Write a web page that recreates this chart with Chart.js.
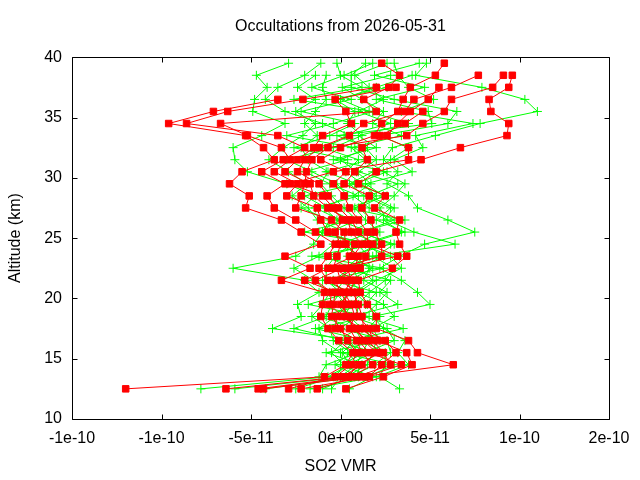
<!DOCTYPE html>
<html>
<head>
<meta charset="utf-8">
<script src="https://cdn.jsdelivr.net/npm/chart.js@4.4.1/dist/chart.umd.min.js"></script>
<style>
  html, body { margin: 0; padding: 0; background: #fff; }
  #wrap { width: 640px; height: 480px; }
</style>
</head>
<body>
<div id="wrap"><canvas id="occ" width="640" height="480"></canvas></div>
<script>
// altitude levels (km), bottom to top
const alts = [12.5, 13.5, 14.5, 15.5, 16.5, 17.5, 18.5, 19.5, 20.5, 21.5, 22.5, 23.5, 24.5, 25.5,
              26.5, 27.5, 28.5, 29.5, 30.5, 31.5, 32.5, 33.5, 34.5, 35.5, 36.5, 37.5, 38.5, 39.5];

// SO2 VMR profiles, values in units of 1e-11 (null = no retrieval at that level)
const red0 = [-12.0, -0.9, 0.3, 0.7, -0.1, -0.7, -1.1, -1.0, -0.9, -3.3, -1.7, -3.1, -1.1, -2.2, -3.3, -5.3, -5.1, -6.2, -5.5, -3.7, -4.3, -5.3, -9.6, -7.1, -3.5, null, null, null];
const red1 = [-6.4, 0.1, 1.2, 2.0, 1.3, 0.9, 0.3, 0.2, 0.4, -0.7, -1.2, -0.7, -0.3, -1.4, -2.5, -3.7, -4.1, -3.1, -4.4, -3.2, -2.0, -3.5, -8.6, -6.3, -2.1, 2.0, null, null];
const red2 = [-4.6, 0.6, 1.8, 1.2, 0.9, 0.5, 0.8, 0.6, 0.2, 0.6, 0.4, 0.5, 0.8, -0.7, -1.1, -1.3, -3.0, -2.4, -3.7, -2.8, -3.3, -5.2, -6.7, 2.0, 1.3, 2.7, 3.3, 2.3];
const red3 = [-4.3, 1.2, 6.3, 4.3, 3.8, 2.0, 2.0, 1.5, 1.1, 1.0, 2.9, 3.7, 3.3, 3.1, 3.3, 1.9, 2.5, 1.0, 2.0, 4.5, 6.7, 9.3, 9.4, 8.4, 8.3, 9.4, 9.6, null];
const red4 = [-2.9, -0.3, 0.6, 0.9, 0.4, 0.0, -0.5, -0.4, -0.3, -2.0, -0.7, 0.7, 1.2, 0.6, 0.4, -0.7, -1.5, -1.7, -3.1, -2.4, -1.5, -1.0, 0.6, 0.3, -0.3, 3.1, null, null];
const red5 = [-2.2, 1.6, 2.3, 3.1, 2.5, 1.3, 1.2, 1.0, 0.7, 0.3, 1.1, 1.4, 1.8, 1.0, 0.6, -0.1, -0.7, -1.2, -2.4, -2.0, -1.2, 0.5, 1.3, 3.6, 4.1, 6.2, 7.7, null];
const red6 = [-1.3, 0.9, 2.8, 2.4, 1.8, 1.6, 1.0, 0.8, 0.9, 0.0, -0.2, 2.3, 2.3, 1.9, 1.7, 1.2, 1.6, 0.2, 0.8, 1.5, 1.2, 2.6, 3.2, 3.9, 4.9, 5.5, null, null];
const red7 = [0.3, 2.4, 4.0, 3.7, 2.1, 1.1, 0.1, -0.6, -0.5, -1.4, 0.1, 3.2, 1.5, 1.5, 1.0, 0.5, 0.2, -0.4, 0.3, -1.1, 0.0, 1.9, 2.3, 3.2, 3.5, 3.9, 5.3, 5.8];
const red8 = [null, 1.4, 3.4, 1.6, 1.0, -0.3, -0.2, 0.4, 0.0, -0.3, 0.8, 1.0, 0.3, 0.2, -0.5, -2.5, -2.2, -2.0, -1.9, -1.6, -0.7, 3.7, 4.6, 5.8, 6.2, 8.5, 9.1, null];
const red9 = [null, 0.4, 1.0, 2.2, 1.5, 0.7, 0.5, 0.0, 0.5, 0.8, -0.4, -0.2, 0.0, -0.3, 0.1, -0.4, -1.0, -2.8, -0.4, 3.8, 3.8, 2.2, 3.6, 4.6, null, null, null, null];

const green0 = [-7.8, -0.7, 0.5, 0.1, 0.8, -3.8, -2.2, -2.4, -1.2, -2.0, -6.0, -2.5, -1.5, -1.0, -0.6, -2.2, -1.4, -3.0, -5.2, -5.9, -6.0, -4.4, -3.1, -4.9, -4.8, -4.1, -4.7, -2.9];
const green1 = [-5.9, 0.3, 1.5, 1.8, 2.0, 1.2, 0.5, 0.0, 0.4, 1.0, 0.7, 1.6, 0.9, 2.2, 1.4, 0.8, 2.0, 1.2, 0.3, 1.0, -1.0, 0.6, -1.0, -3.1, -4.2, -3.5, -2.0, -1.1];
const green2 = [-4.2, 1.0, -0.3, 0.6, -0.4, -0.6, -1.6, -1.0, -0.6, -1.5, -2.6, -1.2, -0.4, 0.3, -1.3, -1.8, -2.7, -1.9, -2.9, -4.0, -3.2, -2.1, -1.4, -2.5, -1.4, -2.4, -1.4, null];
const green3 = [-1.7, 2.0, 3.8, 3.2, 3.6, 2.4, 1.8, 5.0, 4.3, 3.4, 2.2, 3.3, 4.7, 7.5, 6.0, 4.3, 3.8, 2.6, 3.2, 2.4, 2.9, 5.3, 7.8, 11.0, 10.3, 7.9, 4.2, 4.8];
const green4 = [3.3, 2.2, 2.5, 2.5, 1.2, 0.8, 0.2, 0.6, 1.2, 0.5, 1.8, 0.4, 2.8, 1.2, 3.0, 1.6, 0.7, 1.7, 0.9, 0.0, 1.5, -0.2, 5.1, 4.9, 2.0, 4.7, 1.9, 4.4];
const green5 = [-0.5, 0.0, 0.9, 1.2, 1.6, 1.5, 2.2, 1.5, 0.8, 1.8, 1.0, 2.4, 1.4, 3.6, 2.0, 2.8, 1.3, 0.5, 1.8, 2.8, 3.8, 2.2, 6.0, 6.5, 3.0, 0.6, 0.6, 1.4];
const green6 = [-2.5, -0.3, 0.2, -0.5, 0.3, -2.6, -0.8, -0.5, 0.0, -0.8, -0.8, -0.3, 0.6, -0.6, 0.9, 0.2, -0.5, -1.1, -0.7, -1.8, -2.2, -1.3, -2.0, -1.4, -0.8, -1.0, -0.8, null];
const green7 = [-1.0, 0.6, 1.9, 2.8, 2.6, 0.0, 0.9, 1.0, 1.6, 2.5, 3.0, 1.8, 6.4, 4.1, 2.6, 2.2, 3.0, 3.6, 2.4, 1.4, 0.6, 3.4, 1.8, 2.4, 1.2, 0.1, 2.8, null];
const green8 = [null, 1.5, 3.0, 0.0, -1.0, -1.2, -0.3, 0.3, -0.3, 0.2, 0.3, 1.1, 0.0, 1.7, -0.2, -0.9, 0.4, -0.2, -1.6, -3.0, -0.4, 1.2, 0.4, 0.8, -0.3, 2.6, null, null];
const green9 = [null, -1.2, -0.8, 1.0, 0.5, 3.5, 1.3, 2.0, 2.6, 1.3, 1.6, 0.8, 2.1, 0.6, 1.8, 1.0, 2.4, 1.4, 4.0, 3.0, 4.6, 4.2, 7.4, 3.4, 5.2, 3.8, 3.2, 3.0];
const green10 = [null, 0.8, 1.2, -0.8, 2.2, 1.8, 3.0, 2.4, 1.0, 2.0, 3.4, 2.8, 1.2, 3.4, 2.4, 3.0, 1.6, 3.2, 1.0, 2.0, 1.4, 0.2, 2.8, 1.0, 2.4, 1.6, 0.8, 2.6];
const green11 = [null, -0.4, 0.4, 1.8, -0.2, 1.0, -1.2, 1.4, 2.0, -0.4, 0.6, -0.8, 1.6, -1.2, 0.0, -1.4, 1.0, -0.6, -2.0, 0.4, -2.6, -0.6, 0.8, -2.2, 0.6, -1.6, 0.2, 1.8];
const green12 = [0.5, 1.8, 0.0, 1.4, 3.0, 2.6, 0.6, 3.2, 2.2, 2.8, 0.2, 2.0, 3.0, 1.0, 3.6, 0.4, 2.6, 0.8, 2.6, -0.4, 2.0, 1.0, 3.8, 1.6, 0.0, 2.0, 4.0, null];
const green13 = [null, null, 1.0, 0.4, 1.4, -1.4, 1.6, -1.8, 0.6, -1.0, 2.4, -1.6, 2.0, -2.0, 0.6, -0.8, -2.0, 0.9, -0.8, 1.6, 0.8, -3.0, -0.4, 1.8, -2.6, 1.2, 0.0, -0.2];

const redProfiles = [red0, red1, red2, red3, red4, red5, red6, red7, red8, red9];
const greenProfiles = [green0, green1, green2, green3, green4, green5, green6, green7,
                       green8, green9, green10, green11, green12, green13];

// axis ticks
const xTickValues = [-1.5e-10, -1e-10, -5e-11, 0, 5e-11, 1e-10, 1.5e-10];
const xTickLabels = ['-1e-10', '-1e-10', '-5e-11', '0e+00', '5e-11', '1e-10', '2e-10'];
const yTickValues = [10, 15, 20, 25, 30, 35, 40];

const FONT = "'Liberation Sans', Arial, sans-serif";

function toPoints(profile) {
  const pts = [];
  profile.forEach((v, i) => {
    if (v !== null) pts.push({ x: v * 1e-11, y: alts[i] });
  });
  return pts;
}

const datasets = [];
// red first so it is drawn on top
redProfiles.forEach(p => datasets.push({
  data: toPoints(p),
  borderColor: '#ff0000',
  backgroundColor: '#ff0000',
  borderWidth: 1,
  pointStyle: 'rect',
  pointRadius: 4.6,
  pointBorderWidth: 1,
  showLine: true,
  tension: 0
}));
greenProfiles.forEach(p => datasets.push({
  data: toPoints(p),
  borderColor: '#00ff00',
  backgroundColor: '#00ff00',
  borderWidth: 1,
  pointStyle: 'cross',
  pointRadius: 4.5,
  pointBorderWidth: 1,
  showLine: true,
  tension: 0
}));

// gnuplot style border with inward ticks on all four sides
const frame = {
  id: 'frame',
  afterDatasetsDraw(chart) {
    const { ctx, chartArea: a, scales: { x, y } } = chart;
    const L = Math.round(a.left) + 0.5, R = Math.round(a.right) + 0.5;
    const T = Math.round(a.top) + 0.5, B = Math.round(a.bottom) + 0.5;
    ctx.save();
    ctx.strokeStyle = '#000';
    ctx.lineWidth = 1;
    ctx.beginPath();
    ctx.rect(L, T, R - L, B - T);
    x.ticks.forEach(t => {
      const px = Math.round(x.getPixelForValue(t.value)) + 0.5;
      ctx.moveTo(px, B); ctx.lineTo(px, B - 5);
      ctx.moveTo(px, T); ctx.lineTo(px, T + 5);
    });
    y.ticks.forEach(t => {
      const py = Math.round(y.getPixelForValue(t.value)) + 0.5;
      ctx.moveTo(L, py); ctx.lineTo(L + 5, py);
      ctx.moveTo(R, py); ctx.lineTo(R - 5, py);
    });
    ctx.stroke();
    ctx.restore();
  }
};

new Chart(document.getElementById('occ'), {
  type: 'scatter',
  data: { datasets },
  plugins: [frame],
  options: {
    responsive: false,
    animation: false,
    devicePixelRatio: 1,
    layout: { padding: { top: 0, right: 31, bottom: 0, left: 0 } },
    plugins: {
      legend: { display: false },
      tooltip: { enabled: false },
      title: {
        display: true,
        fullSize: false,
        text: 'Occultations from 2026-05-31',
        color: '#000',
        font: { family: FONT, size: 16, weight: 'normal' },
        padding: { top: 17, bottom: 21 }
      }
    },
    scales: {
      x: {
        type: 'linear',
        min: -1.5e-10,
        max: 1.5e-10,
        grid: { display: false, drawTicks: false },
        border: { display: false },
        afterBuildTicks: s => { s.ticks = xTickValues.map(v => ({ value: v })); },
        afterFit: s => { s.height = 61; },
        ticks: {
          autoSkip: false,
          maxRotation: 0,
          padding: 10,
          color: '#000',
          font: { family: FONT, size: 16 },
          callback: (v, i) => xTickLabels[i]
        },
        title: {
          display: true,
          text: 'SO2 VMR',
          color: '#000',
          font: { family: FONT, size: 16 },
          padding: { top: 0, bottom: 4 }
        }
      },
      y: {
        type: 'linear',
        min: 10,
        max: 40,
        grid: { display: false, drawTicks: false },
        border: { display: false },
        afterBuildTicks: s => { s.ticks = yTickValues.map(v => ({ value: v })); },
        afterFit: s => { s.width = 72; },
        ticks: {
          padding: 10,
          color: '#000',
          font: { family: FONT, size: 16 }
        },
        title: {
          display: true,
          text: 'Altitude (km)',
          color: '#000',
          font: { family: FONT, size: 16 },
          padding: { top: 6, bottom: 0 }
        }
      }
    }
  }
});
</script>
</body>
</html>
